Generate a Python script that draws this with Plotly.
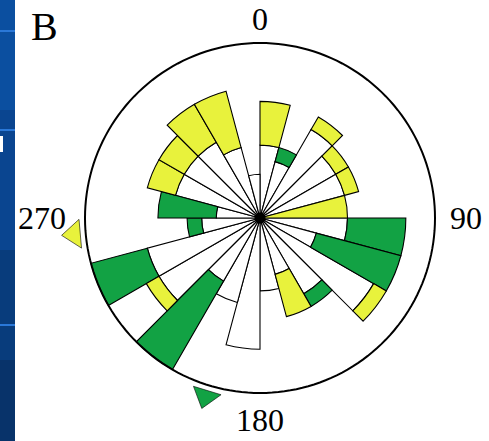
import plotly.graph_objects as go

# 15-degree direction bins (bin centres, clockwise from north)
bin_centres = [7.5 + 15 * i for i in range(24)]
# counts per bin, stacked white -> green -> yellow
white_counts = [5, 4, 7, 6, 6, 0, 6, 4, 9, 6, 4, 5, 9, 6, 5, 8, 8, 4, 3, 6, 6, 6, 5, 3]
green_counts = [0, 1, 0, 0, 0, 0, 4, 6, 0, 1, 0, 0, 0, 0, 7, 0, 4, 1, 4, 0, 0, 0, 0, 0]
yellow_counts = [3, 0, 1, 1, 1, 6, 0, 0, 1, 0, 3, 0, 0, 0, 0, 1, 0, 0, 0, 2, 2, 3, 4, 0]
# mean directions (green, yellow) shown as outer arrows
mean_dirs = [197, 265]
mean_colors = ["#12A244", "#E8F23C"]
r_max = 12
tick_labels = ["0", "90", "180", "270"]

WHITE, GREEN, YELLOW = "#FFFFFF", "#12A244", "#E8F23C"
R_RANGE = 13.6

fig = go.Figure()
for vals, col in [(white_counts, WHITE), (green_counts, GREEN), (yellow_counts, YELLOW)]:
    fig.add_trace(go.Barpolar(
        r=vals, theta=bin_centres, width=[15] * 24,
        marker=dict(color=col, line=dict(color="black", width=1.1)),
        showlegend=False, hoverinfo="skip"))

# outer circle at r_max
circle_theta = list(range(0, 361, 2))
fig.add_trace(go.Scatterpolar(
    r=[r_max] * len(circle_theta), theta=circle_theta, mode="lines",
    line=dict(color="black", width=2), showlegend=False, hoverinfo="skip"))

fig.add_trace(go.Scatterpolar(
    r=[0], theta=[0], mode="markers",
    marker=dict(color="black", size=11), showlegend=False, hoverinfo="skip"))

fig.add_trace(go.Scatterpolar(
    r=[12.8] * len(mean_dirs), theta=mean_dirs, mode="markers",
    marker=dict(symbol="triangle-up", size=25, color=mean_colors,
                angle=mean_dirs, line=dict(color="black", width=0.6)),
    showlegend=False, hoverinfo="skip"))

W, H = 489, 441
cx, cy, R = 260, 218, 175
RD = R * R_RANGE / r_max
fig.update_layout(
    width=W, height=H, margin=dict(l=0, r=0, t=0, b=0),
    paper_bgcolor="white", plot_bgcolor="white",
    polar=dict(
        domain=dict(x=[(cx - RD) / W, (cx + RD) / W],
                    y=[(H - cy - RD) / H, (H - cy + RD) / H]),
        bgcolor="rgba(0,0,0,0)",
        barmode="stack",
        radialaxis=dict(range=[0, R_RANGE], visible=False),
        angularaxis=dict(rotation=90, direction="clockwise", showticklabels=False,
                         ticks="", showgrid=False, showline=False),
    ),
    font=dict(family="Liberation Serif", color="black"),
)

# angle labels
label_pos = [(260, 19), (466, 218), (260, 420), (42, 218)]
for txt, (x, y) in zip(tick_labels, label_pos):
    fig.add_annotation(x=x / W, y=1 - y / H, xref="paper", yref="paper", text=txt,
                       showarrow=False, font=dict(size=32, family="Liberation Serif"),
                       xanchor="center", yanchor="middle")

fig.add_annotation(x=44 / W, y=1 - 26 / H, xref="paper", yref="paper", text="B",
                   showarrow=False, font=dict(size=40, family="Liberation Serif"),
                   xanchor="center", yanchor="middle")

# slide background strip at the left edge
strip = [(0, 110, "#0B4FA0"), (110, 250, "#0A4590"), (250, 360, "#083C7C"), (360, 441, "#08336A")]
for y0, y1, col in strip:
    fig.add_shape(type="rect", xref="paper", yref="paper", x0=0, x1=15 / W,
                  y0=1 - y1 / H, y1=1 - y0 / H, fillcolor=col, line=dict(width=0), layer="below")
for yl in [31, 130, 325]:
    fig.add_shape(type="line", xref="paper", yref="paper", x0=0, x1=15 / W,
                  y0=1 - yl / H, y1=1 - yl / H, line=dict(color="#2A78D8", width=2))
fig.add_shape(type="rect", xref="paper", yref="paper", x0=0, x1=3 / W,
              y0=1 - 152 / H, y1=1 - 136 / H, fillcolor="white", line=dict(width=0))

fig.write_html("out.html", config={"displayModeBar": False},
               post_script="document.body.style.margin='0';document.body.style.overflow='hidden';")
